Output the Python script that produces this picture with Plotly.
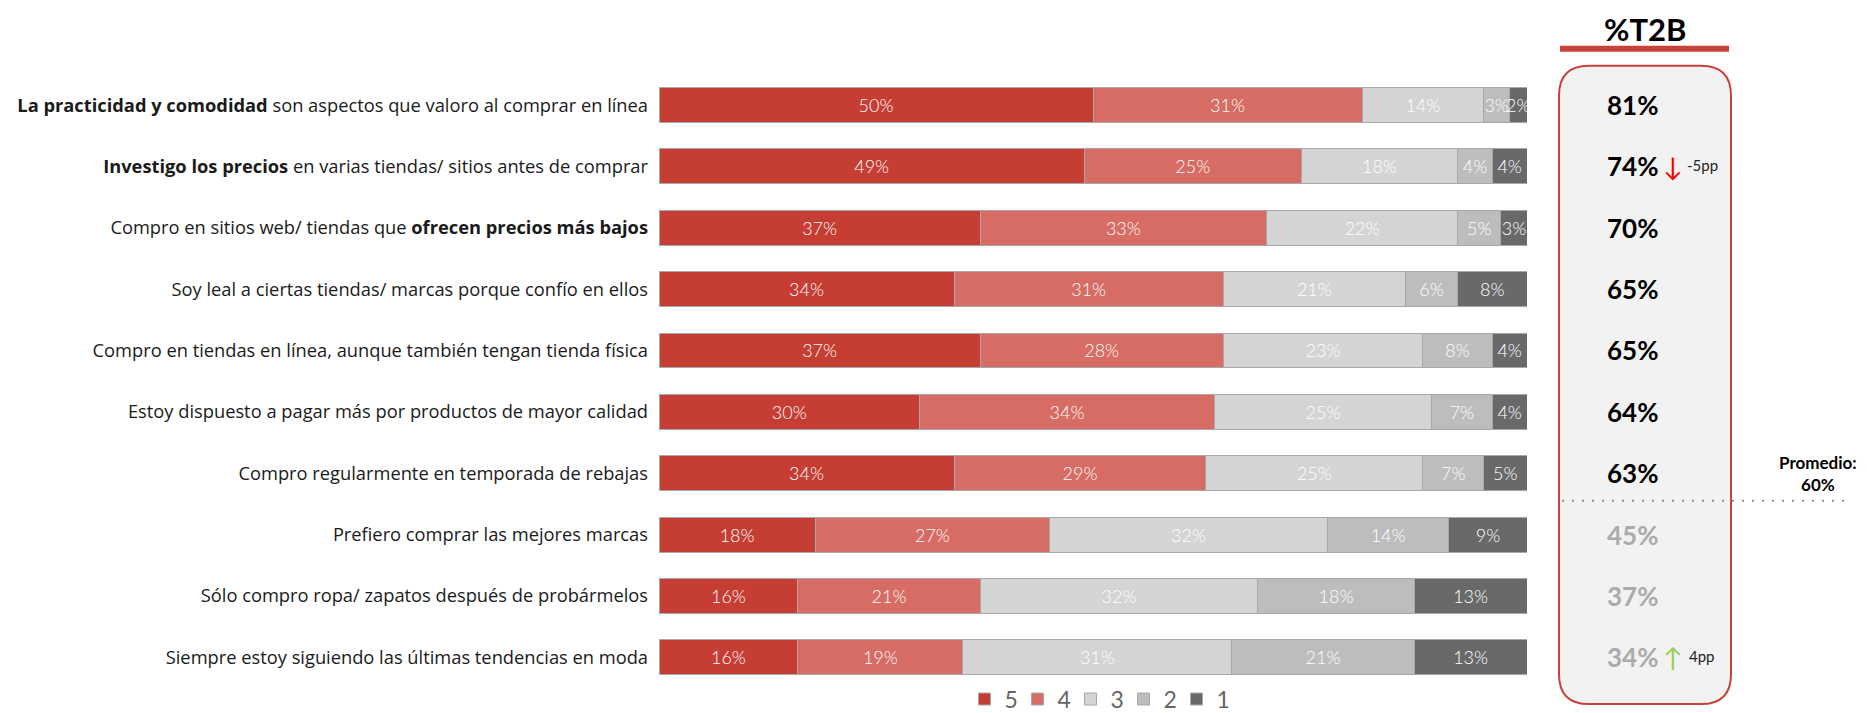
import plotly.graph_objects as go

W, H = 1868, 713
OFF = 8  # page body margin offset compensation

categories = [
    "<b>La practicidad y comodidad</b> son aspectos que valoro al comprar en línea",
    "<b>Investigo los precios</b> en varias tiendas/ sitios antes de comprar",
    "Compro en sitios web/ tiendas que <b>ofrecen precios más bajos</b>",
    "Soy leal a ciertas tiendas/ marcas porque confío en ellos",
    "Compro en tiendas en línea, aunque también tengan tienda física",
    "Estoy dispuesto a pagar más por productos de mayor calidad",
    "Compro regularmente en temporada de rebajas",
    "Prefiero comprar las mejores marcas",
    "Sólo compro ropa/ zapatos después de probármelos",
    "Siempre estoy siguiendo las últimas tendencias en moda",
]
s5 = [50, 49, 37, 34, 37, 30, 34, 18, 16, 16]
s4 = [31, 25, 33, 31, 28, 34, 29, 27, 21, 19]
s3 = [14, 18, 22, 21, 23, 25, 25, 32, 32, 31]
s2 = [3, 4, 5, 6, 8, 7, 7, 14, 18, 21]
s1 = [2, 4, 3, 8, 4, 4, 5, 9, 13, 13]
t2b = [81, 74, 70, 65, 65, 64, 63, 45, 37, 34]
series_names = ["5", "4", "3", "2", "1"]
series_colors = ["#C63D33", "#D66C63", "#D4D4D4", "#BDBDBD", "#696969"]
promedio = 60
changes = {1: ("↓", "-5pp", "#FF0000"), 9: ("↑", "4pp", "#92D050")}

FONT = "Lato"
LABEL_FONT = "Open Sans"

def px(x):
    return (x - OFF) / W

def py(y):
    return 1 - (y - OFF) / H

fig = go.Figure()
for name, vals, col in zip(series_names, [s5, s4, s3, s2, s1], series_colors):
    fig.add_trace(go.Bar(
        y=categories, x=vals, name=name, orientation="h",
        marker=dict(color=col, line=dict(color="#A8A8A8", width=1)),
        texttemplate="%{x}%", textposition="inside", insidetextanchor="middle",
        textangle=0,
        textfont=dict(family=FONT, size=18, color="white", weight=300),
        hoverinfo="skip",
    ))

shapes = []
# T2B panel rounded rect
x0, x1, y0, y1, r = 1559, 1731, 66, 707, 30
pts = [
    f"M {px(x0 + r)},{py(y0)}",
    f"L {px(x1 - r)},{py(y0)}",
    f"Q {px(x1)},{py(y0)} {px(x1)},{py(y0 + r)}",
    f"L {px(x1)},{py(y1 - r)}",
    f"Q {px(x1)},{py(y1)} {px(x1 - r)},{py(y1)}",
    f"L {px(x0 + r)},{py(y1)}",
    f"Q {px(x0)},{py(y1)} {px(x0)},{py(y1 - r)}",
    f"L {px(x0)},{py(y0 + r)}",
    f"Q {px(x0)},{py(y0)} {px(x0 + r)},{py(y0)}",
    "Z",
]
shapes.append(dict(type="path", xref="paper", yref="paper", path=" ".join(pts),
                   fillcolor="#F2F2F2", line=dict(color="#C9423A", width=2), layer="below"))
# underline of header
shapes.append(dict(type="rect", xref="paper", yref="paper", x0=px(1560), x1=px(1729),
                   y0=py(52), y1=py(46), fillcolor="#C9423A", line=dict(width=0)))
# average dotted line
shapes.append(dict(type="line", xref="paper", yref="y", x0=px(1562), x1=px(1852),
                   y0=6.45, y1=6.45, line=dict(color="#8C8C8C", width=2, dash="2px,8px")))

annotations = []
annotations.append(dict(xref="paper", yref="paper", x=px(1645), y=py(29), text="<b>%T2B</b>",
                        showarrow=False, font=dict(family=FONT, size=31, color="#000000"),
                        xanchor="center", yanchor="middle"))
for i, (cat, v) in enumerate(zip(categories, t2b)):
    col = "#000000" if v > promedio else "#ABABAB"
    annotations.append(dict(xref="paper", yref="y", x=px(1632), y=cat, text=f"<b>{v}%</b>",
                            showarrow=False, font=dict(family=FONT, size=26, color=col),
                            xanchor="center", yanchor="middle"))
for i, (arrow, label, col) in changes.items():
    annotations.append(dict(xref="paper", yref="y", x=px(1673), y=categories[i], text=arrow,
                            showarrow=False, font=dict(family=FONT, size=26, color=col),
                            xanchor="center", yanchor="middle"))
    annotations.append(dict(xref="paper", yref="y", x=px(1702), y=categories[i], text=label,
                            showarrow=False, font=dict(family=FONT, size=15, color="#222222"),
                            xanchor="center", yanchor="middle", yshift=1))
annotations.append(dict(xref="paper", yref="paper", x=px(1818), y=py(475),
                        text=f"<b>Promedio:</b><br><b>{promedio}%</b>", showarrow=False,
                        font=dict(family=FONT, size=17, color="#000000"),
                        xanchor="center", yanchor="middle"))

fig.update_layout(
    width=W, height=H,
    margin=dict(l=0, r=0, t=0, b=0),
    paper_bgcolor="white", plot_bgcolor="white",
    barmode="stack", bargap=0.43,
    uniformtext=dict(minsize=18, mode="show"),
    xaxis=dict(domain=[px(659), px(1527)], range=[0, 100], visible=False, fixedrange=True),
    yaxis=dict(domain=[py(690.8), py(74.7)], autorange="reversed", showgrid=False,
               ticks="", showline=False, ticklabelstandoff=10,
               tickfont=dict(family=LABEL_FONT, size=18.3, color="#1A1A1A")),
    legend=dict(orientation="h", x=px(1097), xanchor="center", y=py(702), yanchor="middle",
                font=dict(family=FONT, size=23, color="#666666"), itemwidth=30,
                entrywidth=8, traceorder="normal", bgcolor="rgba(0,0,0,0)"),
    shapes=shapes, annotations=annotations,
    font=dict(family=FONT),
)

fig.write_html("out.html")
